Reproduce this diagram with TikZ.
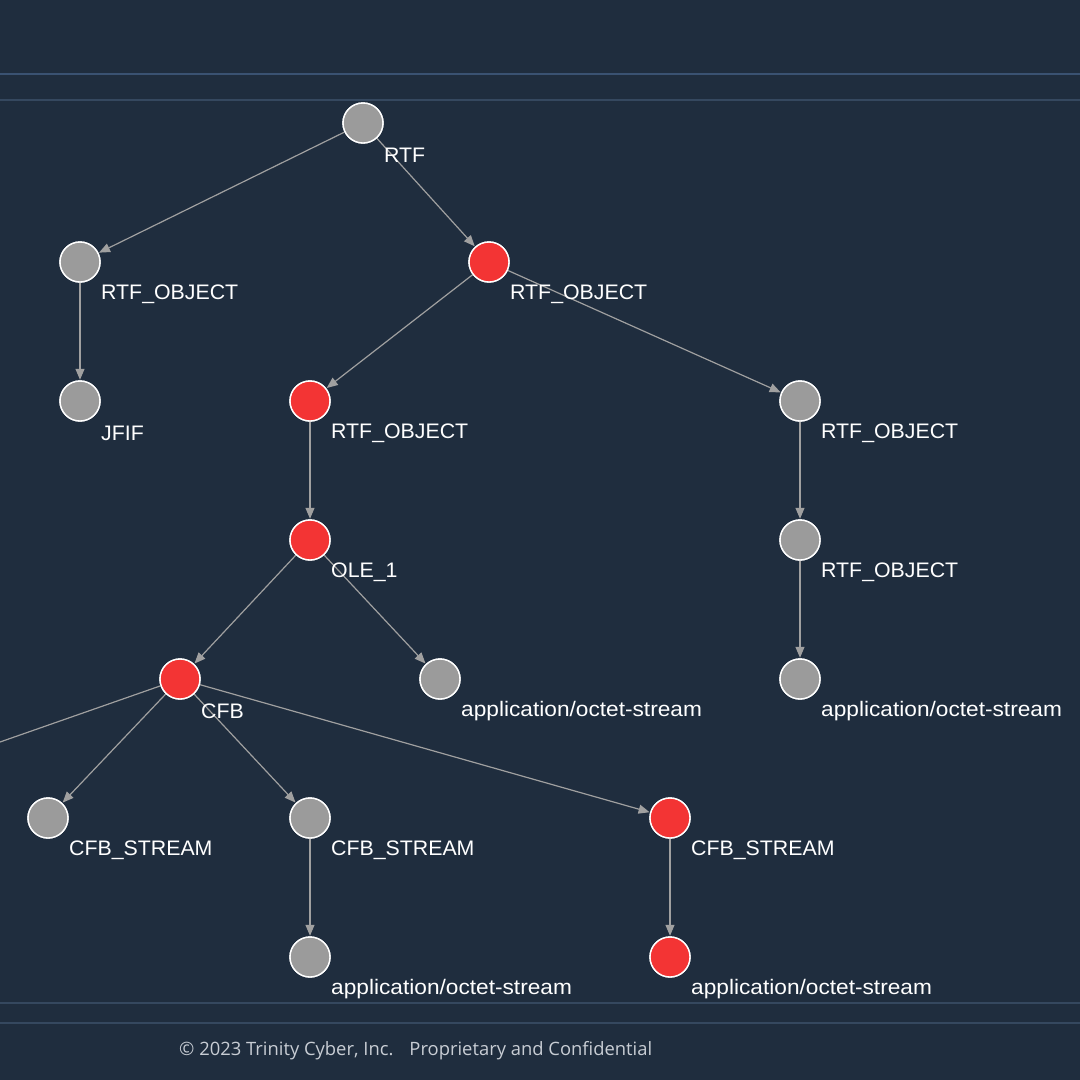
\documentclass[tikz,border=0pt]{standalone}
\usepackage{fontspec}
\setmainfont{Liberation Sans}
\newfontfamily\footfont{Open Sans}
\usetikzlibrary{arrows.meta}
\definecolor{bg}{HTML}{1F2D3E}
\definecolor{rulec}{HTML}{35485F}
\definecolor{rulet}{HTML}{3A5272}
\definecolor{gnode}{HTML}{9B9B9B}
\definecolor{rnode}{HTML}{F33434}
\definecolor{edgec}{HTML}{A0A0A0}
\definecolor{footc}{HTML}{C8CDD4}
\newcommand{\wlab}[1]{\scalebox{1.08}[1]{#1}}
\newcommand{\ulab}[1]{\scalebox{1.015}[1]{#1}}
\tikzset{
  gn/.style={circle, draw=white, line width=1.4pt, fill=gnode, minimum size=40pt, inner sep=0pt},
  rn/.style={circle, draw=white, line width=1.4pt, fill=rnode, minimum size=40pt, inner sep=0pt},
  lbl/.style={anchor=west, text=white, inner sep=0pt, font=\fontsize{21}{24}\selectfont},
  edge/.style={draw=edgec, line width=1.2pt, -{Triangle[length=11pt,width=9pt]}, shorten >=0.5pt},
}
\begin{document}
\begin{tikzpicture}[x=1pt,y=-1pt]
\fill[bg] (0,0) rectangle (1080,1080);
\useasboundingbox (0,0) rectangle (1080,1080);
\draw[rulet, line width=2.2pt] (0,74) -- (1080,74);
\draw[rulec, line width=1.5pt] (0,100) -- (1080,100);
\draw[rulec, line width=1.5pt] (0,1003) -- (1080,1003);
\draw[rulec, line width=1.5pt] (0,1023) -- (1080,1023);
\node[anchor=west, text=footc, inner sep=0pt, font=\footfont\fontsize{18.4}{21}\selectfont] (foot) at (179,1051) {© 2023 Trinity Cyber, Inc.\hspace{16pt}Proprietary and Confidential};
% nodes
\node[gn] (rtf) at (363,123) {};
\node[gn] (ro1) at (80,262) {};
\node[rn] (ro2) at (489,262) {};
\node[gn] (jfif) at (80,401) {};
\node[rn] (ro3) at (310,401) {};
\node[gn] (ro4) at (800,401) {};
\node[rn] (ole) at (310,540) {};
\node[gn] (ro5) at (800,540) {};
\node[rn] (cfb) at (180,679) {};
\node[gn] (app1) at (440,679) {};
\node[gn] (app2) at (800,679) {};
\node[gn] (cs1) at (48,818) {};
\node[gn] (cs2) at (310,818) {};
\node[rn] (cs3) at (670,818) {};
\node[gn] (app3) at (310,957) {};
\node[rn] (app4) at (670,957) {};
\coordinate (offl) at (-60,763);
% edges
\draw[edge] (rtf) -- (ro1);
\draw[edge] (rtf) -- (ro2);
\draw[edge] (ro1) -- (jfif);
\draw[edge] (ro2) -- (ro3);
\draw[edge] (ro2) -- (ro4);
\draw[edge] (ro3) -- (ole);
\draw[edge] (ro4) -- (ro5);
\draw[edge] (ole) -- (cfb);
\draw[edge] (ole) -- (app1);
\draw[edge] (ro5) -- (app2);
\draw[edge] (cfb) -- (cs1);
\draw[edge] (cfb) -- (cs2);
\draw[edge] (cfb) -- (cs3);
\draw[draw=edgec, line width=1.2pt] (cfb) -- (offl);
\draw[edge] (cs2) -- (app3);
\draw[edge] (cs3) -- (app4);
% redraw nodes on top
\foreach \n/\s in {rtf/gn,ro1/gn,ro2/rn,jfif/gn,ro3/rn,ro4/gn,ole/rn,ro5/gn,cfb/rn,app1/gn,app2/gn,cs1/gn,cs2/gn,cs3/rn,app3/gn,app4/rn}{
  \node[\s] at (\n.center) {};
}
% labels
\node[lbl] (l-rtf) at ([xshift=21pt,yshift=-32pt]rtf.center) {\ulab{RTF}};
\node[lbl] (l-ro1) at ([xshift=21pt,yshift=-32pt]ro1.center) {\ulab{RTF\_OBJECT}};
\node[lbl] (l-ro2) at ([xshift=21pt,yshift=-32pt]ro2.center) {\ulab{RTF\_OBJECT}};
\node[lbl] (l-jfif) at ([xshift=21pt,yshift=-32pt]jfif.center) {\ulab{JFIF}};
\node[lbl] (l-ro3) at ([xshift=21pt,yshift=-32pt]ro3.center) {\ulab{RTF\_OBJECT}};
\node[lbl] (l-ro4) at ([xshift=21pt,yshift=-32pt]ro4.center) {\ulab{RTF\_OBJECT}};
\node[lbl] (l-ole) at ([xshift=21pt,yshift=-32pt]ole.center) {\ulab{OLE\_1}};
\node[lbl] (l-ro5) at ([xshift=21pt,yshift=-32pt]ro5.center) {\ulab{RTF\_OBJECT}};
\node[lbl] (l-cfb) at ([xshift=21pt,yshift=-32pt]cfb.center) {\ulab{CFB}};
\node[lbl] (l-app1) at ([xshift=21pt,yshift=-32pt]app1.center) {\wlab{application/octet-stream}};
\node[lbl] (l-app2) at ([xshift=21pt,yshift=-32pt]app2.center) {\wlab{application/octet-stream}};
\node[lbl] (l-cs1) at ([xshift=21pt,yshift=-32pt]cs1.center) {\ulab{CFB\_STREAM}};
\node[lbl] (l-cs2) at ([xshift=21pt,yshift=-32pt]cs2.center) {\ulab{CFB\_STREAM}};
\node[lbl] (l-cs3) at ([xshift=21pt,yshift=-32pt]cs3.center) {\ulab{CFB\_STREAM}};
\node[lbl] (l-app3) at ([xshift=21pt,yshift=-32pt]app3.center) {\wlab{application/octet-stream}};
\node[lbl] (l-app4) at ([xshift=21pt,yshift=-32pt]app4.center) {\wlab{application/octet-stream}};
\end{tikzpicture}
\end{document}
